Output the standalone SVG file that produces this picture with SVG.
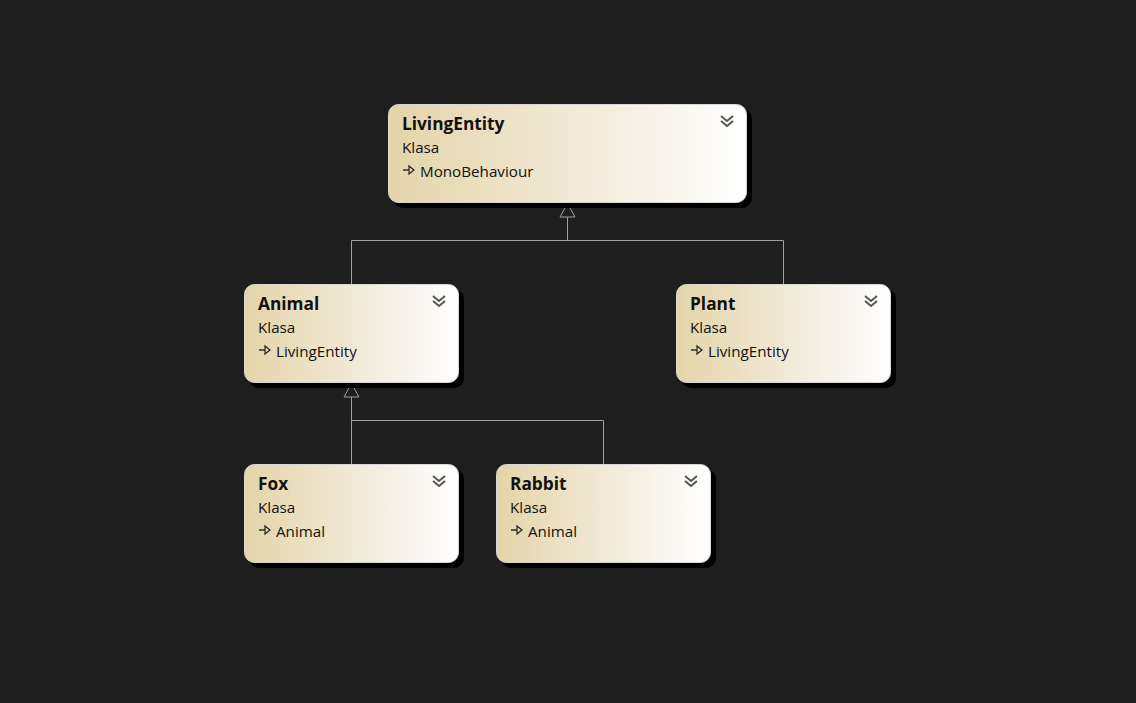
<svg xmlns="http://www.w3.org/2000/svg" width="1136" height="703" viewBox="0 0 1136 703">
<defs>
<linearGradient id="g" x1="0" y1="0" x2="1" y2="0">
<stop offset="0" stop-color="#e4d4a8"/>
<stop offset="0.5" stop-color="#f1e9d6"/>
<stop offset="1" stop-color="#ffffff"/>
</linearGradient>
<g id="chev"><path d="M-6,-6 L0,-1 L6,-6 M-6,-1 L0,4 L6,-1" fill="none" stroke="#555" stroke-width="2"/></g>
<g id="inh"><path d="M0,0 H6" stroke="#222" stroke-width="1.4"/><path d="M6,-4 L11,0 L6,4 Z" fill="none" stroke="#222" stroke-width="1.2"/></g>
</defs>
<style>
.shadow{fill:#000}
.box{fill:url(#g);stroke:#d8d8d8;stroke-width:1}
.t{font-family:"Open Sans","Noto Sans",sans-serif;font-weight:bold;font-size:17.3px;fill:#111}
.s{font-family:"Open Sans","Noto Sans",sans-serif;font-size:15.2px;fill:#111}
.c{fill:none;stroke:#a0a0a0;stroke-width:1}
.h{fill:#1e1e1e;stroke:#a0a0a0;stroke-width:1}
</style>
<rect width="1136" height="703" fill="#1e1e1e"/>
<g id="connectors">
<path class="c" d="M567.5,217 V240.5 M351.5,240.5 H783.5 M351.5,240.5 V284 M783.5,240.5 V284"/>
<path class="h" d="M567.5,203.5 L575,217 L560,217 Z"/>
<path class="c" d="M351.5,397 V420.5 H603.5 V464 M351.5,420.5 V464"/>
<path class="h" d="M351.5,383.5 L359,397 L344,397 Z"/>
</g>
<g id="LivingEntity" transform="translate(388,104)">
<rect class="shadow" x="5" y="5" width="359" height="99" rx="10"/>
<rect class="box" x="0.5" y="0.5" width="358" height="98" rx="10"/>
<text class="t" x="14" y="26">LivingEntity</text>
<text class="s" x="14" y="49">Klasa</text>
<use href="#inh" x="15" y="66"/>
<text class="s" x="32" y="73">MonoBehaviour</text>
<use href="#chev" x="339" y="18"/>
</g>
<g id="Animal" transform="translate(244,284)">
<rect class="shadow" x="5" y="5" width="215" height="99" rx="10"/>
<rect class="box" x="0.5" y="0.5" width="214" height="98" rx="10"/>
<text class="t" x="14" y="26">Animal</text>
<text class="s" x="14" y="49">Klasa</text>
<use href="#inh" x="15" y="66"/>
<text class="s" x="32" y="73">LivingEntity</text>
<use href="#chev" x="195" y="18"/>
</g>
<g id="Plant" transform="translate(676,284)">
<rect class="shadow" x="5" y="5" width="215" height="99" rx="10"/>
<rect class="box" x="0.5" y="0.5" width="214" height="98" rx="10"/>
<text class="t" x="14" y="26">Plant</text>
<text class="s" x="14" y="49">Klasa</text>
<use href="#inh" x="15" y="66"/>
<text class="s" x="32" y="73">LivingEntity</text>
<use href="#chev" x="195" y="18"/>
</g>
<g id="Fox" transform="translate(244,464)">
<rect class="shadow" x="5" y="5" width="215" height="99" rx="10"/>
<rect class="box" x="0.5" y="0.5" width="214" height="98" rx="10"/>
<text class="t" x="14" y="26">Fox</text>
<text class="s" x="14" y="49">Klasa</text>
<use href="#inh" x="15" y="66"/>
<text class="s" x="32" y="73">Animal</text>
<use href="#chev" x="195" y="18"/>
</g>
<g id="Rabbit" transform="translate(496,464)">
<rect class="shadow" x="5" y="5" width="215" height="99" rx="10"/>
<rect class="box" x="0.5" y="0.5" width="214" height="98" rx="10"/>
<text class="t" x="14" y="26">Rabbit</text>
<text class="s" x="14" y="49">Klasa</text>
<use href="#inh" x="15" y="66"/>
<text class="s" x="32" y="73">Animal</text>
<use href="#chev" x="195" y="18"/>
</g>
</svg>
